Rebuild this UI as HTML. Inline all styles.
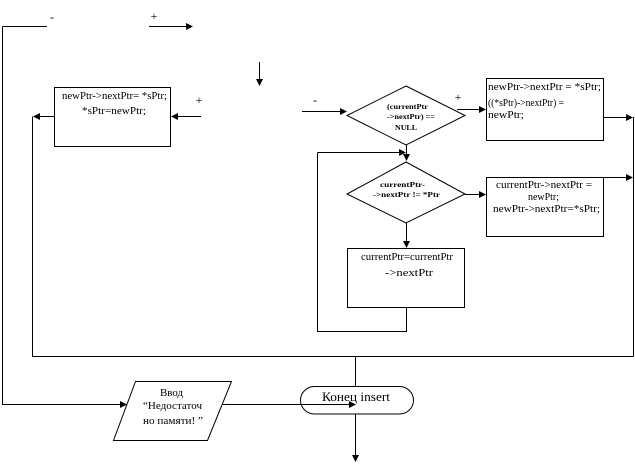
<!DOCTYPE html>
<html>
<head>
<meta charset="utf-8">
<style>
  html,body{margin:0;padding:0;background:#fff;}
  svg{display:block;}
  text{font-family:"Liberation Serif","DejaVu Serif",serif;fill:#000;}
</style>
</head>
<body>
<svg width="635" height="466" viewBox="0 0 635 466" xmlns="http://www.w3.org/2000/svg">
  <g stroke="#000" stroke-width="1" fill="none" shape-rendering="crispEdges">
    <!-- top-left connector -->
    <polyline points="2.5,26.5 47,26.5"/>
    <polyline points="2.5,26.5 2.5,404.5 121,404.5"/>
    <line x1="149" y1="26.5" x2="187" y2="26.5"/>
    <line x1="259.5" y1="62" x2="259.5" y2="80"/>

    <!-- box 1 -->
    <rect x="54.5" y="87.5" width="116" height="59"/>
    <line x1="178" y1="116.5" x2="201" y2="116.5"/>
    <line x1="39" y1="116.5" x2="54" y2="116.5"/>
    <polyline points="32.5,116.5 32.5,356.5 633.5,356.5"/>
    <line x1="633.5" y1="117" x2="633.5" y2="356.5"/>

    <!-- arrow into diamond 1 -->
    <line x1="302" y1="111.5" x2="341" y2="111.5"/>

    <!-- box 2 -->
    <rect x="486.5" y="78.5" width="117" height="62"/>
    <line x1="457" y1="109.5" x2="480" y2="109.5"/>
    <line x1="603" y1="117.5" x2="627" y2="117.5"/>

    <!-- loop -->
    <line x1="406.5" y1="145" x2="406.5" y2="155"/>
    <line x1="317.5" y1="152.5" x2="399" y2="152.5"/>
    <polyline points="317.5,152.5 317.5,331.5 406.5,331.5 406.5,308"/>

    <!-- box 3 -->
    <rect x="486.5" y="177.5" width="117" height="59"/>
    <line x1="465" y1="194.5" x2="480" y2="194.5"/>
    <line x1="603" y1="177.5" x2="627" y2="177.5"/>

    <!-- diamond 2 to box 4 -->
    <line x1="406.5" y1="223" x2="406.5" y2="242"/>
    <rect x="347.5" y="248.5" width="117" height="59"/>

    <!-- bottom -->
    <line x1="355.5" y1="356.5" x2="355.5" y2="386"/>
    <line x1="222" y1="404.5" x2="350" y2="404.5"/>
    <line x1="355.5" y1="414" x2="355.5" y2="456"/>
  </g>

  <g stroke="#000" stroke-width="1" fill="none">
    <polygon points="406,86 465,115.5 406,145 347,115.5"/>
    <polygon points="406,162 465,194 406,223 347,194"/>
    <rect x="300.5" y="386.5" width="113" height="27.5" rx="14" ry="14"/>
    <polygon points="135.5,381.5 231.5,381.5 207.5,440.5 113.5,440.5"/>
  </g>

  <!-- arrowheads -->
  <g fill="#000" stroke="none">
    <polygon points="193,26.5 186,23 186,30"/>
    <polygon points="259.5,86 256,79 263,79"/>
    <polygon points="171,116.5 178,113 178,120"/>
    <polygon points="33,116.5 40,113 40,120"/>
    <polygon points="347,111.5 340,108 340,115"/>
    <polygon points="486,109.5 479,106 479,113"/>
    <polygon points="633,117.5 626,114 626,121"/>
    <polygon points="406,152.5 399,149 399,156"/>
    <polygon points="406.5,161 403,154 410,154"/>
    <polygon points="486,194.5 479,191 479,198"/>
    <polygon points="633,177.5 626,174 626,181"/>
    <polygon points="406.5,248 403,241 410,241"/>
    <polygon points="127,404.5 120,401 120,408"/>
    <polygon points="356,404.5 349,401 349,408"/>
    <polygon points="355.5,462 352,455 359,455"/>
  </g>

  <!-- labels -->
  <g font-size="12">
    <text x="52" y="21" text-anchor="middle">-</text>
    <text x="154" y="20" text-anchor="middle">+</text>
    <text x="199" y="104" text-anchor="middle">+</text>
    <text x="315" y="104" text-anchor="middle">-</text>
    <text x="458" y="101" text-anchor="middle">+</text>
  </g>

  <!-- box 1 text -->
  <g font-size="11">
    <text x="62" y="99" textLength="105" lengthAdjust="spacingAndGlyphs">newPtr-&gt;nextPtr= *sPtr;</text>
    <text x="82" y="114" textLength="64" lengthAdjust="spacingAndGlyphs">*sPtr=newPtr;</text>

    <!-- box 2 text -->
    <text x="488" y="90" textLength="113" lengthAdjust="spacingAndGlyphs">newPtr-&gt;nextPtr = *sPtr;</text>
    <text x="488" y="106" textLength="76" lengthAdjust="spacingAndGlyphs">((*sPtr)-&gt;nextPtr) =</text>
    <text x="488" y="118" textLength="36" lengthAdjust="spacingAndGlyphs">newPtr;</text>

    <!-- box 3 text -->
    <text x="496" y="188" textLength="96" lengthAdjust="spacingAndGlyphs">currentPtr-&gt;nextPtr =</text>
    <text x="528" y="200" textLength="31" lengthAdjust="spacingAndGlyphs">newPtr;</text>
    <text x="493" y="212" textLength="107" lengthAdjust="spacingAndGlyphs">newPtr-&gt;nextPtr=*sPtr;</text>

    <!-- box 4 text -->
    <text x="361" y="260" textLength="92" lengthAdjust="spacingAndGlyphs">currentPtr=currentPtr</text>
    <text x="385" y="276" textLength="48" lengthAdjust="spacingAndGlyphs">-&gt;nextPtr</text>

    <!-- parallelogram text -->
    <text x="160" y="396" textLength="23" lengthAdjust="spacingAndGlyphs">Ввод</text>
    <text x="143" y="409" textLength="59" lengthAdjust="spacingAndGlyphs">“Недостаточ</text>
    <text x="143" y="424" textLength="60" lengthAdjust="spacingAndGlyphs">но памяти! ”</text>
  </g>

  <!-- diamond texts -->
  <g font-size="7" font-weight="bold">
    <text x="387" y="109" textLength="41" lengthAdjust="spacingAndGlyphs">(currentPtr</text>
    <text x="387" y="119" textLength="48" lengthAdjust="spacingAndGlyphs">-&gt;nextPtr) ==</text>
    <text x="395" y="130" textLength="22" lengthAdjust="spacingAndGlyphs">NULL</text>
    <text x="380" y="187" textLength="45" lengthAdjust="spacingAndGlyphs">currentPtr-</text>
    <text x="373" y="197" textLength="67" lengthAdjust="spacingAndGlyphs">-&gt;nextPtr != *Ptr</text>
  </g>

  <!-- terminator text -->
  <text x="322" y="401" font-size="13" textLength="68" lengthAdjust="spacingAndGlyphs">Конец insert</text>
</svg>
</body>
</html>
